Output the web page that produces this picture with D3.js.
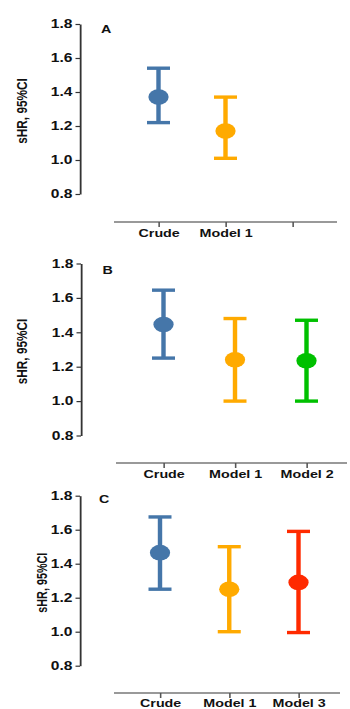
<!DOCTYPE html>
<html>
<head>
<meta charset="utf-8">
<script src="https://cdn.jsdelivr.net/npm/d3@7"></script>
<style>
  body { margin: 0; background: #fff; }
  svg { display: block; }
  text { font-family: "Liberation Sans", Arial, sans-serif; }
</style>
</head>
<body>
<div id="chart"></div>
<script>
// data
const panelLetters = ["A", "B", "C"];
const categoriesA = ["Crude", "Model 1", ""];
const categoriesB = ["Crude", "Model 1", "Model 2"];
const categoriesC = ["Crude", "Model 1", "Model 3"];
const estA = [1.37, 1.17];
const lowA = [1.22, 1.01];
const highA = [1.54, 1.37];
const estB = [1.445, 1.24, 1.235];
const lowB = [1.25, 1.0, 1.0];
const highB = [1.645, 1.48, 1.47];
const estC = [1.465, 1.25, 1.29];
const lowC = [1.25, 1.0, 0.995];
const highC = [1.675, 1.5, 1.59];
const colorsA = ["#4576a9", "#ffaa00"];
const colorsB = ["#4576a9", "#ffaa00", "#00c000"];
const colorsC = ["#4576a9", "#ffaa00", "#ff2a00"];
const yTicks = [0.8, 1.0, 1.2, 1.4, 1.6, 1.8];
const yLabel = "sHR, 95%CI";

// the original image is stretched horizontally, so draw in a narrower
// coordinate system and let the viewBox widen it
const SX = 1.3;
const W = 350, H = 709;
const sx = (v) => v / SX;

const svg = d3.select("#chart").append("svg")
  .attr("width", W)
  .attr("height", H)
  .attr("viewBox", `0 0 ${W / SX} ${H}`)
  .attr("preserveAspectRatio", "none");

// layout per panel (pixel positions of the picture)
const layouts = [
  { yAxisX: 80, yTop: 24, yBottom: 194, xAxisY: 222, xFrom: 114, xTo: 337,
    tick0: 158.5, tick1: 292.5, labelY: 237, letterX: 101, letterY: 33,
    titleX: 22, titleSize: 11.8 },
  { yAxisX: 81, yTop: 263.5, yBottom: 435.5, xAxisY: 463, xFrom: 116, xTo: 347,
    tick0: 163.5, tick1: 306.5, labelY: 478.5, letterX: 102.5, letterY: 274,
    titleX: 22, titleSize: 11.8 },
  { yAxisX: 80, yTop: 495.7, yBottom: 665.7, xAxisY: 693, xFrom: 114, xTo: 340,
    tick0: 160, tick1: 298.5, labelY: 707, letterX: 99, letterY: 503.5,
    titleX: 42, titleSize: 10.8 },
];

const panels = [
  { cats: categoriesA, est: estA, low: lowA, high: highA, colors: colorsA },
  { cats: categoriesB, est: estB, low: lowB, high: highB, colors: colorsB },
  { cats: categoriesC, est: estC, low: lowC, high: highC, colors: colorsC },
];

panels.forEach((p, i) => {
  const L = layouts[i];
  const g = svg.append("g");

  const y = d3.scaleLinear().domain([0.8, 1.8]).range([L.yBottom, L.yTop]);
  const x = d3.scalePoint()
    .domain(d3.range(p.cats.length))
    .range([sx(L.tick0), sx(L.tick1)]);

  // Y axis
  const yAxis = d3.axisLeft(y)
    .tickValues(yTicks)
    .tickFormat(d3.format(".1f"))
    .tickSize(sx(4.5))
    .tickSizeOuter(0)
    .tickPadding(sx(3));

  const yg = g.append("g")
    .attr("transform", `translate(${sx(L.yAxisX)},0)`)
    .call(yAxis);
  yg.select(".domain").attr("stroke", "#333").attr("stroke-width", 1.4);
  yg.selectAll(".tick line").attr("stroke", "#333").attr("stroke-width", 1.2);
  yg.selectAll(".tick text")
    .attr("font-size", 12)
    .attr("font-weight", "bold")
    .attr("fill", "#111");

  // X axis
  g.append("line")
    .attr("x1", sx(L.xFrom)).attr("x2", sx(L.xTo))
    .attr("y1", L.xAxisY).attr("y2", L.xAxisY)
    .attr("stroke", "#777").attr("stroke-width", 1.6);

  const xAxis = d3.axisBottom(x)
    .tickFormat((d) => p.cats[d])
    .tickSize(5)
    .tickPadding(4);
  const xg = g.append("g")
    .attr("transform", `translate(0,${L.xAxisY})`)
    .call(xAxis);
  xg.select(".domain").remove();
  xg.selectAll(".tick line").attr("stroke", "#555").attr("stroke-width", 1.2);
  xg.selectAll(".tick text")
    .attr("font-size", 11)
    .attr("font-weight", "bold")
    .attr("fill", "#111")
    .attr("dy", null)
    .attr("y", L.labelY - L.xAxisY);

  // y title
  g.append("text")
    .attr("transform", `translate(${sx(L.titleX)},${(L.yTop + L.yBottom) / 2 + 2}) rotate(-90)`)
    .attr("text-anchor", "middle")
    .attr("dy", "0.35em")
    .attr("font-size", L.titleSize)
    .attr("font-weight", "bold")
    .attr("fill", "#111")
    .text(yLabel);

  // panel letter
  g.append("text")
    .attr("x", sx(L.letterX))
    .attr("y", L.letterY)
    .attr("font-size", 11)
    .attr("font-weight", "bold")
    .attr("fill", "#111")
    .text(panelLetters[i]);

  // error bars and points
  const capHalf = sx(11.5);
  const bars = g.selectAll("g.bar")
    .data(p.est.map((e, k) => ({ k, e, lo: p.low[k], hi: p.high[k], c: p.colors[k] })))
    .join("g")
    .attr("class", "bar");

  bars.append("line")
    .attr("x1", (d) => x(d.k)).attr("x2", (d) => x(d.k))
    .attr("y1", (d) => y(d.lo)).attr("y2", (d) => y(d.hi))
    .attr("stroke", (d) => d.c).attr("stroke-width", 3.4);
  bars.append("line")
    .attr("x1", (d) => x(d.k) - capHalf).attr("x2", (d) => x(d.k) + capHalf)
    .attr("y1", (d) => y(d.hi)).attr("y2", (d) => y(d.hi))
    .attr("stroke", (d) => d.c).attr("stroke-width", 3.4);
  bars.append("line")
    .attr("x1", (d) => x(d.k) - capHalf).attr("x2", (d) => x(d.k) + capHalf)
    .attr("y1", (d) => y(d.lo)).attr("y2", (d) => y(d.lo))
    .attr("stroke", (d) => d.c).attr("stroke-width", 3.4);
  bars.append("circle")
    .attr("cx", (d) => x(d.k))
    .attr("cy", (d) => y(d.e))
    .attr("r", 7.8)
    .attr("fill", (d) => d.c);
});
</script>
</body>
</html>
